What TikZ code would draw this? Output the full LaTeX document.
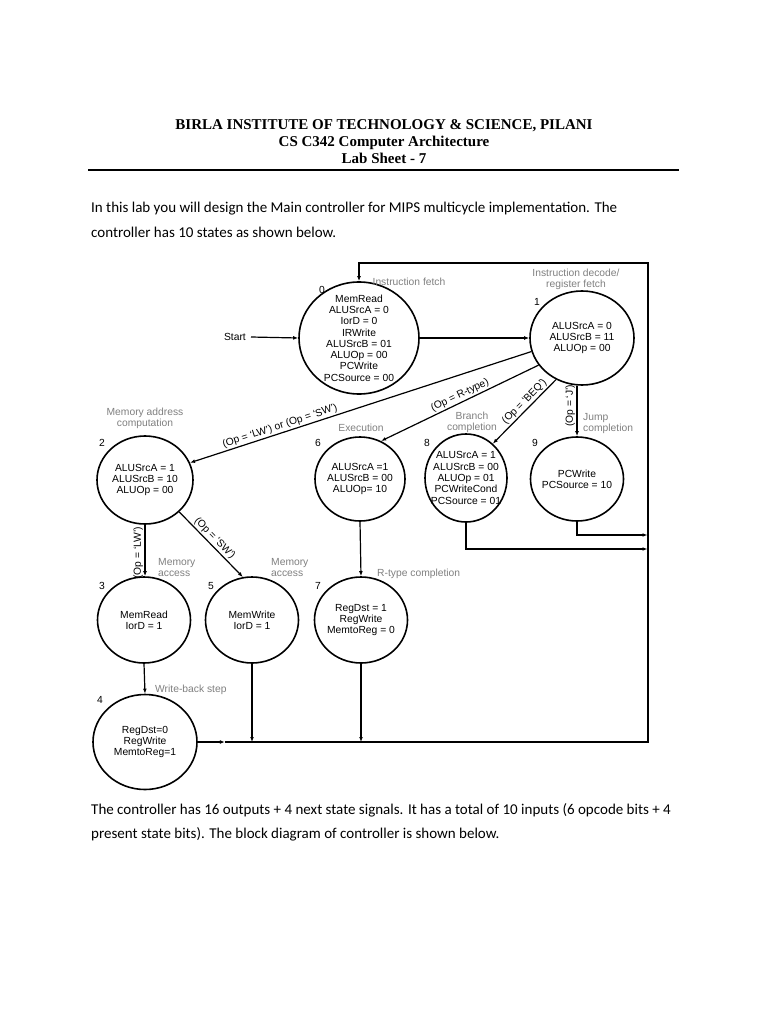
\documentclass[tikz,border=0pt]{standalone}
\usepackage{fontspec}
\setmainfont{Carlito}
\setsansfont{Liberation Sans}
\newfontfamily\headfont{Liberation Serif}
\usetikzlibrary{arrows.meta,
                calc,
                positioning,
                shapes.geometric
                }

\begin{document}
\begin{tikzpicture}[x=1pt, y=-1pt,
every node/.style = {font=\sffamily\fontsize{10.3}{11.3}\selectfont},
    ST/.style = {draw, ellipse, line width=1.6pt, align=center,
                 inner sep=-8pt, minimum width=93pt, minimum height=86pt},
    LB/.style = {text=black!50, align=center, inner sep=0pt,
                 font=\sffamily\fontsize{10.3}{11}\selectfont},
    NR/.style = {inner sep=0pt},
    ED/.style = {line width=1.2pt, -{Latex[length=5pt, width=3.8pt]}},
    QL/.style = {sloped, above, inner sep=1.5pt, pos=#1},
    QV/.style = {rotate=90, anchor=south, inner sep=1.5pt, pos=#1},
    HD/.style = {anchor=base, inner sep=0pt,
                 font=\headfont\bfseries\fontsize{15}{17}\selectfont},
    TX/.style = {anchor=base west, inner sep=0pt,
                 font=\rmfamily\fontsize{15}{17}\selectfont},
                        ]
\fill[white] (0,0) rectangle (768,1024);
\useasboundingbox (0,0) rectangle (768,1024);
% heading and text
\node[HD] (hd1) at (384,130) {BIRLA INSTITUTE OF TECHNOLOGY \& SCIENCE, PILANI};
\node[HD] (hd2) at (384,147) {CS C342 Computer Architecture};
\node[HD] (hd3) at (384,164) {Lab Sheet - 7};
\draw[line width=1.8pt] (88,170) -- (679,170);
\node[TX] (tx1) at (91,213) {In this lab you will design the Main controller for MIPS multicycle implementation. The};
\node[TX] (tx2) at (91,237) {controller has 10 states as shown below.};
\node[TX] (tx3) at (91,814) {The controller has 16 outputs + 4 next state signals. It has a total of 10 inputs (6 opcode bits + 4};
\node[TX] (tx4) at (91,838) {present state bits). The block diagram of controller is shown below.};
% states
\node[ST, minimum width=120pt, minimum height=112pt] (s0) at (359,338)
     {MemRead\\ALUSrcA = 0\\IorD = 0\\IRWrite\\ALUSrcB = 01\\ALUOp = 00\\PCWrite\\PCSource = 00};
\node[ST, minimum width=104pt, minimum height=94pt] (s1) at (582,338)
     {ALUSrcA = 0\\ALUSrcB = 11\\ALUOp = 00};
\node[ST, minimum width=96pt, minimum height=88pt] (s2) at (145,480)
     {ALUSrcA = 1\\ALUSrcB = 10\\ALUOp = 00};
\node[ST, minimum width=90pt, minimum height=84pt] (s6) at (360,479)
     {ALUSrcA =1\\ALUSrcB = 00\\ALUOp= 10};
\node[ST, minimum width=82pt, minimum height=88pt] (s8) at (466,478)
     {ALUSrcA = 1\\ALUSrcB = 00\\ALUOp = 01\\PCWriteCond\\PCSource = 01};
\node[ST, minimum height=84pt] (s9) at (577,479) {PCWrite\\PCSource = 10};
\node[ST] (s3) at (144,620) {MemRead\\IorD = 1};
\node[ST] (s5) at (252,620) {MemWrite\\IorD = 1};
\node[ST] (s7) at (361,620) {RegDst = 1\\RegWrite\\MemtoReg = 0};
\node[ST, minimum width=104pt, minimum height=95pt] (s4) at (145,742)
     {RegDst=0\\RegWrite\\MemtoReg=1};
% state numbers
\node[NR] (n0) at (322,290) {0};
\node[NR] (n1) at (537,302) {1};
\node[NR] (n2) at (102,443) {2};
\node[NR] (n6) at (318,443) {6};
\node[NR] (n8) at (427,443) {8};
\node[NR] (n9) at (535,443) {9};
\node[NR] (n3) at (102,586) {3};
\node[NR] (n5) at (211,586) {5};
\node[NR] (n7) at (318,586) {7};
\node[NR] (n4) at (100,700) {4};
% step labels
\node[LB] (lb0) at (409,282) {Instruction fetch};
\node[LB] (lb1) at (576,279) {Instruction decode/\\register fetch};
\node[LB] (lb2) at (145,418) {Memory address\\computation};
\node[LB] (lb6) at (361,428) {Execution};
\node[LB] (lb8) at (472,422) {Branch\\completion};
\node[LB, align=left, anchor=west] (lb9) at (583,424) {Jump\\completion};
\node[LB, align=left, anchor=west] (lb3) at (158,568) {Memory\\access};
\node[LB, align=left, anchor=west] (lb5) at (271,568) {Memory\\access};
\node[LB, anchor=west] (lb7) at (377,574) {R-type completion};
\node[LB, anchor=west] (lb4) at (155,690) {Write-back step};
% transitions
\node[NR, anchor=east] (st) at (246,337) {Start};
\draw[ED] ([xshift=5pt]st.east) -- (s0.west);
\draw[ED] (s0.east) -- (s1.west);
\draw[ED] (s1.195) -- node[QL=0.73] {(Op = `LW') or (Op = `SW')} (s2.21);
\draw[ED] (s1.212) -- node[QL=0.48] {(Op = R-type)} (s6.61);
\draw[ED] (s1.238) -- node[QL=0.42] {(Op = `BEQ')} (s8.52);
\draw[ED] (s1.south -| s9.north) -- node[QV=0.4] {(Op = `J')} (s9.north);
\draw[ED] (s2.south) -- node[QV=0.55] {(Op = `LW')} (s2.south |- s3.north);
\draw[ED] (s2.317) -- node[QL=0.48] {(Op = `SW')} (s5.102);
\draw[ED] (s6.south) -- (s7.north);
\draw[ED] (s3.south) -- (s4.north);
% back to fetch
\coordinate (cB) at (648,742);
\coordinate (cT) at (648,263);
\coordinate (c8) at (647.5,549);
\coordinate (c9) at (647.5,535);
\coordinate (j5) at (s5.south |- s4.east);
\coordinate (j7) at (s7.south |- s4.east);
\coordinate (m4) at ($(s4.east)!0.5!(j5)$);
\draw[ED] (s4.east) -- (m4);
\draw[ED] (m4) -- (cB) -- (cT) -- (s0.north |- cT) -- (s0.north);
\draw[ED] (s5.south) -- (j5);
\draw[ED] (s7.south) -- (j7);
\draw[ED] (s8.south) -- (s8.south |- c8) -- (c8);
\draw[ED] (s9.south) -- (s9.south |- c9) -- (c9);
\end{tikzpicture}
\end{document}
